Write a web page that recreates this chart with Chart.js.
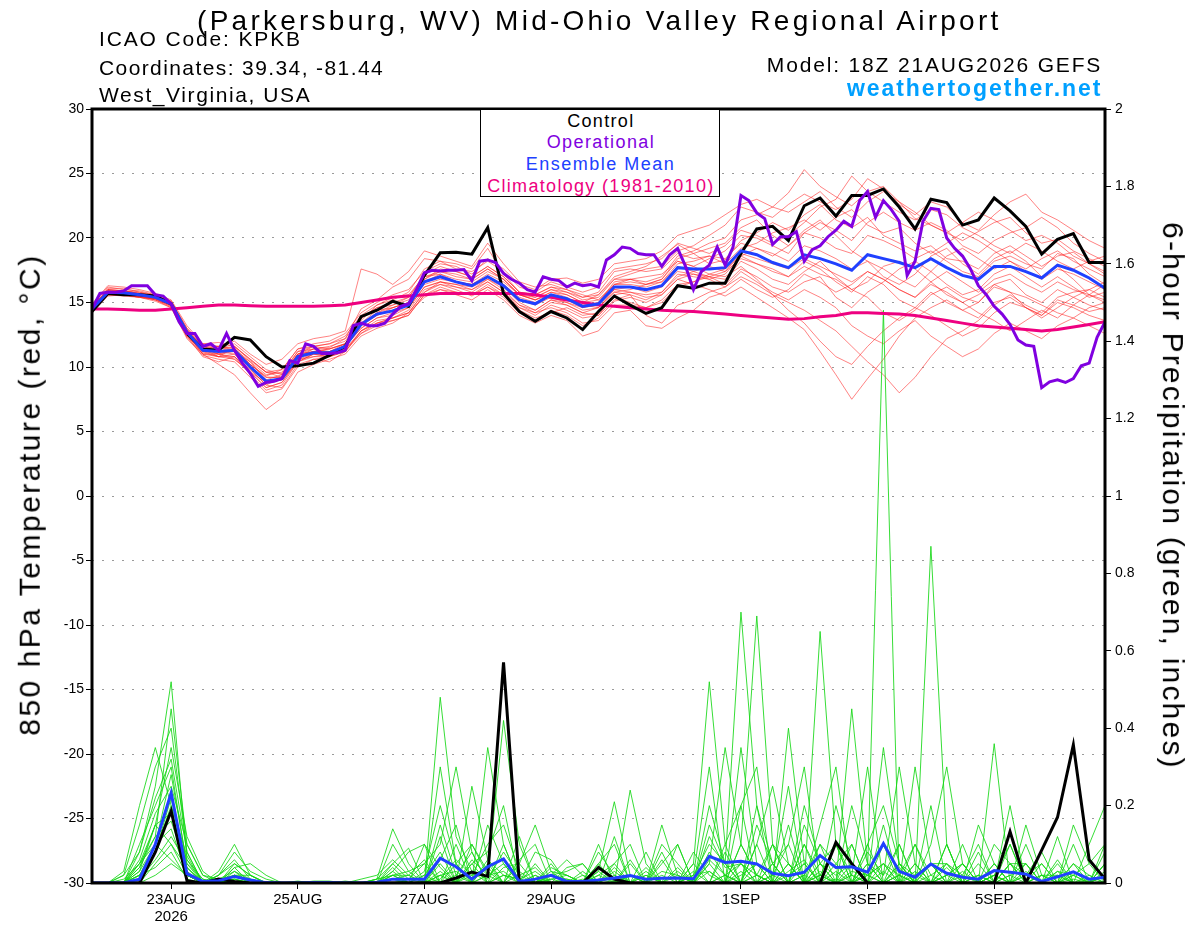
<!DOCTYPE html>
<html><head><meta charset="utf-8">
<script src="https://cdn.jsdelivr.net/npm/chart.js@4.4.1/dist/chart.umd.min.js"></script>
<style>
html,body{margin:0;padding:0;background:#fff;}
#wrap{position:relative;width:1200px;height:927px;overflow:hidden;font-family:"Liberation Sans",Arial,sans-serif;}
canvas{position:absolute;left:0;top:0;}
.t{position:absolute;white-space:nowrap;line-height:1;display:inline-block;color:#000;}
#legend{position:absolute;left:480px;top:110px;width:238px;height:86px;background:#fff;border:1px solid #000;border-top:none;}
</style></head>
<body><div id="wrap">
<canvas id="c" width="1200" height="927"></canvas>
<div id="legend"></div>
<div class="t" id="title" style="font-size:28px">(Parkersburg, WV) Mid-Ohio Valley Regional Airport</div>
<div class="t" id="icao" style="font-size:21px">ICAO Code: KPKB</div>
<div class="t" id="coord" style="font-size:21px">Coordinates: 39.34, -81.44</div>
<div class="t" id="state" style="font-size:21px">West_Virginia, USA</div>
<div class="t" id="model" style="font-size:21px">Model: 18Z 21AUG2026 GEFS</div>
<div class="t" id="site" style="font-size:23px;font-weight:bold;color:#00a0ff">weathertogether.net</div>
<div class="t" id="lg1" style="font-size:18px;color:#000">Control</div>
<div class="t" id="lg2" style="font-size:18px;color:#8000e0">Operational</div>
<div class="t" id="lg3" style="font-size:18px;color:#2040ff">Ensemble Mean</div>
<div class="t" id="lg4" style="font-size:18px;color:#ee0080">Climatology (1981-2010)</div>
<div class="t" id="ytitle" style="font-size:30px">850 hPa Temperature (red, °C)</div>
<div class="t" id="y2title" style="font-size:30px">6-hour Precipitation (green, inches)</div>
</div>
<script>
// ---------------- DATA ----------------
const TICK_HOURS = [30, 78, 126, 174, 246, 294, 342];
const TICK_LABELS = [['23AUG', '2026'], '25AUG', '27AUG', '29AUG', '1SEP', '3SEP', '5SEP'];

const CTRL_T = [14.3,15.7,15.6,15.6,15.5,14.9,12.6,11.4,11.3,12.3, 12.1,10.8,10.0,10.1,10.3,10.9,11.6,13.9,14.4,15.1,
 14.7,17.1,18.85,18.9,18.75,20.8,15.7,14.3,13.55,14.3, 13.8,12.9,14.3,15.5,14.8,14.15,14.6,16.3,16.1,16.5,
 16.5,18.8,20.7,20.9,19.8,22.5,23.1,21.7,23.3,23.3, 23.8,22.4,20.7,23.0,22.75,21.0,21.4,23.1,22.1,20.9,
 18.75,19.9,20.35,18.1,18.1];

const MEAN_T = [14.5,15.8,15.75,15.6,15.4,14.9,12.7,11.3,11.2,11.3, 10.0,8.9,9.1,10.8,11.1,11.1,11.6,13.3,14.1,14.35,
 14.8,16.6,17.0,16.6,16.3,17.0,16.3,15.2,14.9,15.6, 15.3,14.7,14.9,16.2,16.2,16.0,16.3,17.7,17.6,17.6,
 17.7,19.0,18.7,18.1,17.7,18.7,18.4,18.0,17.5,18.7, 18.4,18.1,17.7,18.4,17.7,17.1,16.8,17.8,17.8,17.4,
 16.9,17.9,17.5,16.9,16.1];

const CLIM_T = [14.5,14.5,14.45,14.4,14.4,14.5,14.6,14.7,14.8,14.8, 14.75,14.7,14.7,14.7,14.7,14.75,14.8,15.0,15.2,15.4,
 15.5,15.6,15.7,15.7,15.7,15.7,15.7,15.7,15.6,15.4, 15.2,15.0,14.8,14.7,14.6,14.5,14.4,14.35,14.3,14.2,
 14.1,14.0,13.9,13.8,13.7,13.75,13.9,14.0,14.2,14.2, 14.15,14.1,14.0,13.8,13.6,13.4,13.2,13.1,13.0,12.9,
 12.8,12.9,13.1,13.3,13.5];

// operational run, 3-hourly
const OPER_T = [14.5,15.7,15.8,15.8,15.9,16.3,16.3,16.3,15.6,15.5,
 14.9,13.5,12.6,12.6,11.6,11.8,11.3,12.6,11.3,10.3,
 9.5,8.5,8.8,8.9,9.1,10.5,10.3,11.8,11.6,11.05,
 11.05,11.1,11.3,13.2,13.4,13.2,13.2,13.4,14.1,14.7,
 14.9,16.0,17.3,17.5,17.45,17.5,17.5,17.55,16.7,18.2,
 18.3,18.1,17.25,16.8,16.5,16.0,15.8,17.0,16.8,16.7,
 16.2,16.5,16.3,16.4,16.2,18.3,18.7,19.3,19.2,18.8,
 18.7,18.7,17.8,18.7,19.2,17.8,16.0,17.4,17.9,19.3,
 17.9,19.3,23.3,22.9,21.95,21.5,19.5,20.1,20.1,20.5,
 18.2,19.1,19.4,20.1,20.6,21.3,20.9,22.9,23.6,21.6,
 22.9,22.2,21.3,17.1,18.2,21.3,22.3,22.2,20.0,19.2,
 18.6,17.6,16.3,15.6,14.7,14.1,13.3,12.1,11.7,11.6,
 8.4,8.85,9.0,8.8,9.1,10.1,10.3,12.3,13.5];

const CTRL_P = [0,0,0,0,0.08,0.186,0.006,0,0.01,0.004, 0,0,0,0,0,0,0,0,0,0,
 0,0,0,0.013,0.028,0.017,0.57,0,0,0, 0,0,0.04,0.01,0,0,0,0,0,0,
 0,0,0,0,0,0,0,0.105,0.05,0, 0,0,0,0,0,0,0,0,0.133,0,
 0.085,0.17,0.357,0.06,0.01];

const MEAN_P = [0,0,0,0.01,0.1,0.233,0.024,0.004,0.006,0.017, 0.008,0.001,0,0,0.001,0.001,0,0,0.002,0.01,
 0.01,0.01,0.064,0.042,0.01,0.042,0.062,0.004,0.01,0.02, 0.004,0.004,0.008,0.013,0.019,0.01,0.012,0.013,0.011,0.069,
 0.053,0.056,0.049,0.025,0.019,0.028,0.071,0.04,0.042,0.028, 0.102,0.03,0.015,0.049,0.025,0.015,0.01,0.032,0.028,0.023,
 0.004,0.016,0.029,0.01,0.015];

// ensemble members, 850 hPa temperature (6-hourly)
const M01 = [14.8,16.2,16.0,15.9,15.6,15.0,12.5,11.0,10.8,11.5,10.2,9.3,9.8,11.4,11.8,12.0,12.6,14.2,15.0,15.6,16.0,
 17.4,18.0,17.8,17.2,18.4,17.6,16.4,16.0,16.8,16.9,16.5,16.8,18.0,18.2,18.4,19.0,20.2,20.6,21.0,21.8,22.6,23.0,
 22.4,23.5,25.3,24.0,23.2,22.5,23.6,24.0,22.8,21.5,21.0,20.4,19.8,20.5,21.2,21.6,20.4,19.6,19.9,19.0,18.4,17.8];
const M02 = [14.2,15.5,15.6,15.4,15.1,14.6,12.2,10.9,10.6,10.4,9.2,8.0,8.3,10.0,10.6,10.8,11.2,12.8,13.4,13.8,14.2,
 15.8,16.4,16.0,15.5,16.2,15.4,14.2,13.6,14.4,14.0,13.2,13.8,15.1,15.4,15.0,15.6,16.8,16.4,16.0,15.5,16.2,15.4,
 14.6,13.8,12.9,11.2,9.4,7.5,9.1,10.6,12.4,13.8,14.6,15.2,14.4,15.0,16.2,15.8,14.6,14.0,15.2,14.8,14.3,14.6];
const M03 = [14.6,16.0,15.9,15.7,15.5,15.1,13.0,11.8,11.9,11.6,10.5,9.6,9.5,11.0,11.4,11.5,12.2,14.5,15.2,16.2,16.8,
 18.4,18.2,18.0,17.6,19.2,17.2,15.8,15.4,16.0,15.6,15.0,15.6,17.0,17.4,17.8,18.6,19.5,18.8,18.0,18.3,19.8,20.4,
 21.2,20.6,21.8,22.6,21.4,20.8,21.6,20.2,19.6,19.0,19.4,18.4,18.2,17.6,18.8,19.4,18.6,17.8,18.6,18.9,18.0,17.4];
const M04 = [14.4,15.6,15.8,15.5,15.2,14.7,12.8,11.5,11.0,10.8,9.4,8.2,8.6,10.4,11.0,10.8,11.4,12.6,13.2,13.6,14.0,
 15.6,16.2,15.8,15.6,16.4,15.6,14.4,13.8,14.2,14.6,14.0,14.2,15.4,15.0,14.6,15.2,16.4,16.6,17.0,16.8,18.2,17.6,
 16.8,16.4,17.4,18.2,17.0,16.0,15.4,14.2,13.6,14.4,15.6,16.2,15.4,15.0,16.4,16.8,15.6,15.0,16.0,15.4,14.8,14.4];
const M05 = [14.7,15.9,15.7,15.6,15.4,14.8,12.4,11.2,11.4,11.8,10.8,9.8,9.4,11.2,11.6,11.4,11.8,13.6,14.8,15.4,15.6,
 17.0,17.2,16.8,16.6,17.4,16.8,15.6,15.2,15.8,15.4,14.8,14.6,15.8,16.0,16.4,16.8,18.4,18.8,19.2,19.6,20.8,21.4,
 20.2,19.4,20.6,21.4,20.2,19.0,18.2,17.0,16.4,17.2,18.6,19.2,18.0,17.2,18.4,19.0,18.2,17.0,17.8,16.8,15.6,15.0];
const M06 = [14.3,15.7,15.7,15.5,15.3,14.9,12.6,11.0,10.2,9.4,8.0,6.7,7.6,9.6,10.2,10.6,11.0,12.4,13.0,13.4,14.2,
 15.8,16.6,16.4,16.0,16.8,16.2,15.0,14.4,15.2,14.8,14.2,14.0,15.6,15.8,15.4,15.6,16.8,17.2,17.0,16.4,17.6,17.0,
 16.2,15.8,16.6,17.0,15.4,14.6,15.8,16.6,17.6,18.2,17.4,16.4,15.6,16.0,17.2,17.8,17.0,16.2,17.0,16.2,15.4,15.8];
const M07 = [14.9,16.3,16.2,16.0,15.7,15.2,13.2,11.8,11.6,12.0,11.0,10.2,10.6,11.8,12.2,12.4,12.8,17.6,17.2,16.4,17.4,
 19.0,18.6,18.2,17.8,19.6,18.0,16.6,16.2,16.4,16.0,15.6,15.2,16.4,16.8,17.0,17.2,18.2,17.8,18.4,19.0,20.2,20.0,
 19.4,18.8,20.4,20.0,19.2,18.8,20.2,19.8,19.2,18.4,19.0,18.2,17.4,17.0,18.2,18.6,18.0,17.6,18.8,18.4,17.2,16.4];
const M08 = [14.5,15.8,15.6,15.4,15.3,14.8,12.9,11.4,10.8,10.6,9.6,8.4,8.8,10.6,10.8,11.0,11.6,13.0,13.8,14.2,14.6,
 16.2,16.6,16.2,15.8,16.6,15.8,14.8,14.2,15.0,14.8,14.2,14.6,15.8,15.6,15.2,15.8,17.2,17.0,16.8,17.2,18.6,18.0,
 17.4,17.0,18.2,17.6,16.6,15.8,17.0,16.4,15.2,14.6,15.8,15.0,14.4,13.8,15.0,15.4,14.6,14.0,15.0,14.6,14.0,13.6];
const M09 = [14.6,16.1,16.1,15.8,15.5,15.0,12.8,11.6,11.6,11.2,10.4,9.4,9.6,11.2,11.4,11.6,12.0,13.8,14.6,14.8,15.2,
 16.8,17.6,17.4,17.0,17.8,17.0,15.8,15.6,16.2,15.8,15.2,15.4,16.8,17.2,17.6,17.8,19.0,19.4,20.2,21.0,22.4,22.0,
 21.6,22.6,23.4,22.8,22.2,23.0,24.6,23.8,22.6,21.8,22.8,22.4,21.2,20.6,21.8,22.8,23.4,22.0,21.4,20.6,19.8,19.2];
const M10 = [14.4,15.6,15.6,15.5,15.3,14.7,12.4,10.8,10.4,10.8,9.8,8.6,8.4,10.2,10.6,10.4,11.2,12.8,13.6,13.8,14.4,
 16.0,16.4,16.2,16.0,16.6,15.8,14.6,14.0,14.8,14.4,13.8,14.0,15.2,15.6,14.0,13.4,14.8,15.2,15.8,16.2,17.4,16.6,
 15.8,15.2,16.0,15.4,14.6,13.2,12.4,11.8,12.8,13.6,12.4,11.6,10.8,11.4,12.6,13.4,12.8,12.2,13.2,13.8,13.2,12.6];
const M11 = [14.5,15.9,15.8,15.6,15.4,14.9,12.7,11.2,11.0,11.4,10.2,9.2,9.2,10.8,11.2,11.2,11.8,13.4,14.2,14.6,15.0,
 16.4,16.8,16.6,16.4,17.0,16.4,15.2,14.8,15.4,15.0,14.6,14.8,16.0,16.2,15.8,16.2,17.4,17.2,16.8,16.2,17.0,16.4,
 15.6,15.0,14.4,13.6,12.8,11.6,10.4,9.4,8.0,9.2,10.8,12.2,12.8,13.6,14.8,15.6,14.8,14.2,15.4,15.8,16.0,15.4];
const M12 = [14.6,15.8,15.7,15.5,15.3,14.9,12.6,11.4,11.6,11.4,10.4,9.0,9.4,11.0,11.2,11.4,11.8,13.2,14.0,14.6,15.0,
 16.6,17.2,16.6,16.4,17.2,16.6,15.6,15.4,16.0,15.8,15.4,15.6,16.8,16.8,16.4,16.6,18.0,18.2,18.6,18.0,19.2,19.6,
 20.4,20.8,21.4,20.6,21.6,22.2,21.0,20.4,20.8,19.6,18.8,19.6,20.4,19.8,19.0,18.2,17.6,18.4,19.0,18.2,17.6,17.0];
const M13 = [14.3,15.6,15.5,15.4,15.2,14.6,12.3,11.0,11.0,10.6,9.6,8.8,9.0,10.4,11.0,11.0,11.4,12.8,13.4,13.8,14.2,
 15.4,16.0,15.6,15.2,16.0,15.2,14.0,13.4,14.0,13.6,12.4,12.8,14.2,14.4,13.2,13.0,13.8,14.4,15.4,15.8,16.8,16.0,
 15.4,16.0,17.2,16.6,15.8,16.4,17.4,16.8,16.0,15.4,16.6,17.4,16.6,15.8,16.8,17.2,16.4,15.8,16.6,16.0,15.6,15.2];
const M14 = [14.7,16.0,15.9,15.8,15.6,15.1,13.0,11.6,11.2,11.0,9.8,8.6,9.2,11.0,11.6,11.8,12.4,14.0,14.8,15.2,15.8,
 17.6,18.2,17.6,17.4,18.2,17.4,16.2,15.8,16.6,16.2,15.8,16.2,17.6,17.8,18.0,18.4,19.6,19.2,18.8,19.4,20.6,20.2,
 19.6,20.2,21.2,22.4,23.0,24.8,23.6,22.8,22.0,21.4,22.2,21.8,20.8,20.2,19.4,18.8,19.6,19.0,18.2,17.6,18.2,18.6];
const M15 = [14.4,15.7,15.6,15.5,15.2,14.8,12.6,11.2,10.8,11.0,10.0,8.8,9.0,10.6,11.0,11.0,11.6,13.0,13.8,14.0,14.6,
 16.2,16.6,16.4,16.2,16.8,16.0,14.8,14.4,15.2,15.0,14.4,14.6,16.0,15.8,15.6,15.8,17.0,17.4,17.8,17.4,18.4,18.0,
 17.6,17.0,17.8,17.2,16.8,16.0,16.6,17.8,18.2,17.6,16.6,15.6,15.0,15.6,16.4,15.8,15.4,14.8,14.2,13.8,14.6,15.0];
const M16 = [14.5,15.8,15.8,15.6,15.4,14.9,12.8,11.4,11.2,11.2,10.2,9.2,9.2,11.0,11.2,11.2,11.6,13.4,14.4,14.6,15.0,
 16.8,17.4,17.2,16.8,17.6,16.8,15.6,15.2,15.6,15.2,14.8,15.0,16.6,16.8,16.6,17.0,18.6,19.0,19.6,20.0,21.4,21.8,
 22.4,22.0,22.8,23.6,22.4,21.6,22.8,23.6,22.8,22.0,21.0,20.4,21.2,22.0,21.4,20.6,19.8,20.2,19.6,18.6,18.0,17.2];
const M17 = [14.6,15.9,15.8,15.7,15.5,15.0,12.9,11.6,11.4,11.6,10.6,9.6,9.8,11.4,11.6,11.8,12.2,13.8,14.6,15.0,15.4,
 17.0,17.4,17.0,16.8,17.6,16.8,15.6,15.2,15.8,15.6,15.0,15.2,16.4,16.6,16.4,16.8,18.2,17.8,17.2,17.0,17.8,16.8,
 15.6,14.4,13.4,12.0,10.8,10.2,11.6,12.8,13.8,14.6,14.0,13.2,12.4,13.0,14.2,15.0,14.6,13.8,14.6,15.4,16.0,16.6];
const M18 = [14.4,15.7,15.6,15.4,15.3,14.8,12.5,11.1,10.8,10.8,9.6,8.4,8.8,10.4,10.8,10.8,11.2,12.6,13.4,13.6,14.0,
 15.6,16.0,15.8,15.6,16.2,15.6,14.6,14.2,14.6,14.2,13.4,13.6,14.8,14.8,14.6,15.0,16.2,16.6,17.2,17.6,18.6,19.2,
 18.8,18.2,19.4,19.0,18.4,17.6,18.2,17.6,16.8,16.2,17.4,18.6,19.2,18.4,17.6,18.2,17.4,16.8,17.6,17.2,16.6,16.0];
const M19 = [14.5,15.9,15.9,15.7,15.5,15.0,12.8,11.4,11.0,11.2,10.0,8.8,9.2,10.8,11.2,11.4,11.8,13.4,14.0,14.4,14.8,
 16.6,17.0,16.6,16.4,17.0,16.4,15.4,15.0,15.6,15.2,14.6,15.0,16.4,16.4,16.2,16.6,17.8,17.4,17.0,17.4,18.8,18.4,
 18.0,17.6,18.4,17.8,17.2,16.6,17.4,16.8,16.0,15.4,16.4,15.8,15.0,14.2,13.6,12.8,13.6,14.4,13.8,14.8,15.6,16.4];
const M20 = [14.6,16.0,15.9,15.7,15.5,14.9,12.7,11.3,11.2,11.6,10.6,9.6,9.2,10.8,11.4,11.2,11.6,13.2,14.2,14.8,15.4,
 17.2,17.8,17.4,17.0,17.8,17.0,15.8,15.6,16.2,16.0,15.4,15.8,17.4,17.6,17.4,17.6,18.8,18.4,18.6,18.4,19.6,19.2,
 18.6,19.4,20.4,21.2,20.6,19.8,21.2,22.0,21.2,20.6,21.2,20.6,19.4,18.8,19.8,20.4,20.8,21.6,20.8,19.6,18.8,18.2];

// ensemble members, 6-hour precipitation (inches)
const P01 = [0,0,0,0.08,0.25,0.52,0.06,0,0.01,0.03, 0.01,0,0,0,0,0,0,0,0,0.02, 0,0,0.48,0.12,0.03,0,0.02,0,0,0.01,
 0,0,0,0.04,0,0,0,0,0.02,0.1, 0.05,0.7,0.2,0,0.03,0.06,0,0,0.02,0, 0,0.04,0,0,0.02,0,0,0.05,0,0, 0,0.02,0,0,0.03];
const P02 = [0,0,0.02,0.15,0.3,0.4,0.08,0,0,0.05, 0.02,0,0,0,0,0,0,0,0,0, 0.01,0.05,0.1,0.3,0.08,0,0,0.06,0.1,0,
 0,0,0.03,0.21,0.02,0,0.05,0.1,0,0, 0.02,0,0.1,0.25,0.05,0,0.65,0.1,0,0.02, 0.05,0,0.1,0.02,0,0,0.08,0,0.02,0, 0,0,0.05,0.02,0];
const P03 = [0,0,0,0.05,0.12,0.45,0.1,0.02,0,0.02, 0,0,0,0.005,0,0,0,0,0.01,0.14, 0.05,0,0.02,0,0.25,0.06,0,0,0,0.04,
 0.02,0,0.1,0,0,0.03,0,0,0.05,0.52, 0.1,0,0,0.05,0,0.1,0.02,0,0,0.03, 1.48,0,0,0,0.04,0,0,0.02,0.1,0, 0,0.06,0,0,0];
const P04 = [0,0,0,0.1,0.2,0.3,0.04,0,0.02,0.08, 0.03,0.01,0,0,0,0,0,0,0,0.03, 0.08,0.1,0,0.05,0,0.35,0.1,0,0.02,0,
 0,0,0,0,0.24,0.05,0,0,0,0.05, 0.35,0.1,0.02,0,0.4,0.05,0,0,0.45,0.05, 0,0.05,0,0.87,0.1,0,0,0,0.05,0.02, 0,0,0.1,0,0];
const P05 = [0,0,0.03,0.2,0.35,0.2,0.02,0,0.01,0, 0,0,0,0,0,0,0,0.01,0.02,0.06, 0.02,0,0,0,0,0.02,0.42,0.1,0,0,
 0.04,0.05,0,0,0,0,0.15,0.02,0,0, 0,0.1,0.69,0.1,0,0,0.05,0,0,0.08, 0.02,0.3,0.05,0,0,0,0,0.36,0,0, 0.05,0,0,0.1,0.2];
const P06 = [0,0,0,0.04,0.15,0.35,0.12,0.03,0,0.04, 0.05,0.02,0,0,0,0,0,0,0,0, 0,0.03,0.2,0.05,0.1,0.02,0.05,0,0.08,0.06,
 0,0,0.05,0.1,0,0,0,0,0.08,0.02, 0,0.2,0,0.05,0.1,0.3,0,0.05,0.1,0, 0.05,0,0.3,0.05,0,0.02,0,0,0,0.15, 0.02,0,0,0,0.05];
const P07 = [0,0,0,0.03,0.1,0.28,0.05,0,0.03,0.1, 0.02,0,0,0,0,0,0,0,0,0.05, 0.01,0,0.06,0.15,0,0.05,0,0.12,0,0.02,
 0.06,0.02,0,0.05,0.1,0,0,0.1,0,0.2, 0.05,0,0.1,0,0.05,0,0.15,0.3,0,0.1, 0.2,0.05,0,0.1,0.3,0.05,0,0,0.2,0, 0,0.12,0,0,0.1];
const P08 = [0,0,0.02,0.08,0.22,0.32,0.08,0,0,0.03, 0,0,0,0,0.005,0.005,0,0,0,0.02, 0,0,0.12,0,0.05,0.08,0.2,0,0.02,0,
 0,0,0.08,0.02,0,0.08,0,0,0.02,0.3, 0,0.35,0.05,0,0,0.2,0.05,0,0.02,0.3, 0,0,0.05,0,0.1,0,0.15,0.05,0,0.02, 0.08,0,0.05,0,0];
const P09 = [0,0,0,0.06,0.18,0.25,0.1,0.02,0.01,0.02, 0,0,0,0,0,0,0.005,0,0,0.1, 0.03,0.05,0,0,0.1,0.03,0,0.05,0.15,0.03,
 0.02,0,0,0,0.05,0,0.02,0,0,0.15, 0.05,0,0.05,0.02,0.25,0,0.1,0,0.1,0, 0.15,0,0,0.2,0,0.1,0,0,0.05,0, 0.02,0,0.15,0.05,0];
const P10 = [0,0,0,0.02,0.08,0.22,0.03,0,0.02,0.05, 0.02,0,0,0,0,0,0,0,0.01,0.05, 0.09,0,0.3,0.05,0,0,0.1,0,0,0.05,
 0,0.03,0,0,0,0,0.1,0.05,0,0, 0.1,0.2,0.3,0,0,0.15,0.05,0.1,0,0.05, 0,0.1,0,0.05,0.05,0,0,0.1,0.05,0.05, 0,0.05,0,0,0.05];
const P11 = [0,0,0.01,0.05,0.15,0.18,0.06,0.01,0,0.04, 0,0,0,0,0,0,0,0,0,0, 0,0.1,0.04,0,0.02,0.1,0.15,0.03,0,0.02,
 0.03,0.05,0,0,0,0.02,0,0,0.05,0, 0.02,0,0.15,0.05,0,0.1,0,0.2,0.05,0, 0.35,0.05,0,0,0.1,0,0.02,0,0,0.1, 0,0,0.02,0.05,0.1];
const P12 = [0,0,0,0.04,0.12,0.16,0.04,0,0,0.02, 0.01,0,0,0,0,0,0,0,0,0.03, 0,0.02,0.08,0,0.06,0.02,0.03,0,0.05,0,
 0,0.02,0,0.12,0,0,0.06,0,0,0.06, 0.02,0.05,0,0.1,0.05,0,0.02,0,0.2,0.05, 0,0.02,0.1,0,0,0.05,0,0.02,0,0, 0.02,0.02,0,0,0.08];
const P13 = [0,0,0,0.02,0.1,0.14,0.02,0,0.01,0.01, 0,0,0,0,0,0,0,0,0,0.01, 0,0.02,0,0.1,0,0.15,0.05,0,0,0.02,
 0.01,0,0.05,0,0.02,0,0,0.03,0,0.08, 0.02,0,0.2,0.05,0,0.02,0.1,0.05,0,0.05, 0.02,0.1,0,0.02,0.05,0,0.05,0,0.02,0.05, 0,0.03,0,0,0];
const P14 = [0,0,0,0.01,0.06,0.12,0.05,0.01,0,0.02, 0.02,0,0,0,0,0,0,0,0.01,0.02, 0.02,0,0.05,0,0.03,0.01,0.08,0.02,0,0,
 0,0,0.02,0.05,0,0,0.03,0.02,0,0.12, 0.04,0.05,0,0.02,0.1,0,0.05,0.02,0.05,0, 0.1,0,0.05,0,0.02,0.05,0,0.05,0,0.03, 0,0,0.03,0,0.02];
const P15 = [0,0,0,0,0.05,0.1,0.04,0,0.01,0, 0,0,0,0,0,0,0,0,0,0, 0,0,0.02,0.03,0,0.06,0.02,0.01,0.03,0,
 0.01,0,0.02,0,0,0.02,0,0,0.02,0.03, 0,0.1,0.02,0,0.02,0.05,0,0,0.03,0.02, 0.05,0.02,0,0.05,0,0,0.02,0,0.05,0, 0,0,0,0.02,0];
const P16 = [0,0,0,0.02,0.08,0.2,0.07,0,0,0.01, 0,0,0,0,0,0,0,0,0,0.04, 0,0,0.15,0.02,0,0,0.04,0.05,0,0.03,
 0,0.01,0,0.03,0,0.04,0,0,0,0.05, 0,0.02,0.05,0,0.15,0,0.02,0.1,0.02,0, 0.03,0,0.02,0,0.05,0.02,0.1,0,0,0.02, 0.05,0,0,0,0.02];
const P17 = [0,0,0,0.03,0.15,0.1,0.02,0,0.02,0.06, 0.01,0,0,0,0,0,0,0,0,0.01, 0.02,0.06,0,0.02,0.08,0,0,0.02,0.04,0,
 0,0,0.03,0,0.06,0,0,0.04,0,0, 0.08,0,0.02,0.1,0,0.05,0,0.03,0,0.1, 0,0.05,0.02,0.05,0,0.03,0,0,0.1,0, 0,0.03,0.02,0,0.05];
const P18 = [0,0,0,0.05,0.1,0.06,0.02,0,0,0.02, 0,0,0,0,0,0,0,0,0,0.02, 0.03,0,0.01,0.06,0.02,0.04,0,0,0,0.01,
 0.02,0,0.01,0,0.02,0,0.08,0,0.03,0, 0,0.05,0.02,0,0.05,0,0.03,0,0.05,0.02, 0,0.02,0,0,0.02,0.05,0,0.02,0,0.05, 0,0,0.02,0,0.02];
const P19 = [0,0,0,0.02,0.04,0.08,0.01,0,0,0, 0,0,0,0,0,0,0,0,0,0, 0,0,0.03,0,0.05,0,0.02,0.01,0,0,
 0,0,0,0.02,0,0,0,0.02,0,0.03, 0,0.03,0,0.02,0,0.02,0,0.01,0,0.02, 0,0,0.03,0,0,0,0.02,0,0,0, 0.02,0,0,0.01,0];
const P20 = [0,0,0,0,0.02,0.05,0.02,0,0,0.01, 0,0,0,0,0,0,0,0,0,0.01, 0,0,0.02,0,0,0.02,0,0,0.01,0,
 0,0,0,0,0.02,0,0,0,0,0, 0,0,0.02,0,0,0,0.02,0,0,0, 0,0.02,0,0,0,0,0,0.02,0,0, 0,0,0.01,0,0];

const MEMBERS_T = [M01,M02,M03,M04,M05,M06,M07,M08,M09,M10,M11,M12,M13,M14,M15,M16,M17,M18,M19,M20];
const MEMBERS_P = [P01,P02,P03,P04,P05,P06,P07,P08,P09,P10,P11,P12,P13,P14,P15,P16,P17,P18,P19,P20];

// ---------------- CHART ----------------
const FONT = 'Liberation Sans';
const pts = (arr, step) => arr.map((v, i) => ({x: i * step, y: v}));
const datasets = [];
MEMBERS_T.forEach((m, k) => datasets.push({label: 'T' + (k + 1), data: pts(m, 6), yAxisID: 'y',
  borderColor: 'rgba(255,30,30,0.55)', borderWidth: 1, order: 6}));
MEMBERS_P.forEach((m, k) => datasets.push({label: 'P' + (k + 1), data: pts(m, 6), yAxisID: 'y2',
  borderColor: 'rgba(20,215,20,0.85)', borderWidth: 1, order: 5}));
datasets.push({label: 'Climatology', data: pts(CLIM_T, 6), yAxisID: 'y', borderColor: '#ee0080', borderWidth: 3, order: 4});
datasets.push({label: 'Control P', data: pts(CTRL_P, 6), yAxisID: 'y2', borderColor: '#000', borderWidth: 3, order: 3});
datasets.push({label: 'Control', data: pts(CTRL_T, 6), yAxisID: 'y', borderColor: '#000', borderWidth: 3, order: 3});
datasets.push({label: 'Mean P', data: pts(MEAN_P, 6), yAxisID: 'y2', borderColor: '#2040ff', borderWidth: 3, order: 2});
datasets.push({label: 'Mean', data: pts(MEAN_T, 6), yAxisID: 'y', borderColor: '#2040ff', borderWidth: 3, order: 2});
datasets.push({label: 'Operational', data: pts(OPER_T, 3), yAxisID: 'y', borderColor: '#8000e0', borderWidth: 3, order: 1});

const framePlugin = {
  id: 'frame',
  afterDatasetsDraw(chart) {
    const {ctx, chartArea: a} = chart;
    ctx.save();
    ctx.strokeStyle = '#000';
    ctx.lineWidth = 3;
    ctx.strokeRect(a.left, a.top, a.right - a.left, a.bottom - a.top);
    ctx.restore();
  }
};

new Chart(document.getElementById('c'), {
  type: 'line',
  data: {datasets},
  plugins: [framePlugin],
  options: {
    responsive: false,
    animation: false,
    layout: {padding: {top: 109, left: 0, right: 0, bottom: 0}},
    elements: {point: {radius: 0, hoverRadius: 0}, line: {tension: 0, fill: false}},
    plugins: {legend: {display: false}, tooltip: {enabled: false}, title: {display: false}},
    scales: {
      x: {
        type: 'linear', min: 0, max: 384, position: 'bottom',
        afterBuildTicks: s => { s.ticks = TICK_HOURS.map(v => ({value: v})); },
        afterFit: s => { s.height = 44; },
        ticks: {autoSkip: false, maxRotation: 0, padding: 3, color: '#000',
          font: {family: FONT, size: 15, lineHeight: 1.1},
          callback: v => TICK_LABELS[TICK_HOURS.indexOf(v)]},
        grid: {drawOnChartArea: false, drawTicks: true, tickLength: 6, tickColor: '#000', tickWidth: 1},
        border: {display: false}
      },
      y: {
        position: 'left', min: -30, max: 30,
        afterFit: s => { s.width = 92; },
        ticks: {stepSize: 5, padding: 2, color: '#000', font: {family: FONT, size: 14}},
        grid: {color: '#9a9a9a', lineWidth: 1, tickColor: '#000', tickLength: 6, tickWidth: 1, tickBorderDash: []},
        border: {display: false, dash: [2, 8]}
      },
      y2: {
        position: 'right', min: 0, max: 2,
        afterFit: s => { s.width = 95; },
        ticks: {stepSize: 0.2, padding: 4, color: '#000', font: {family: FONT, size: 14},
          callback: v => String(Math.round(v * 10) / 10)},
        grid: {drawOnChartArea: false, tickColor: '#000', tickLength: 6, tickWidth: 1},
        border: {display: false}
      }
    }
  }
});

// ---------------- TEXT LAYOUT ----------------
function fitText(el, w) {
  el.style.letterSpacing = '0px';
  const w0 = el.offsetWidth;
  const n = el.textContent.length;
  const ls = (w - w0) / Math.max(1, n - 1);
  el.style.letterSpacing = ls + 'px';
  return ls;
}
function place(id, o) {
  const el = document.getElementById(id);
  const ls = fitText(el, o.w);
  const W = el.offsetWidth - ls, H = el.offsetHeight;
  let left;
  if (o.left !== undefined) left = o.left;
  else if (o.right !== undefined) left = o.right - W;
  else left = o.cx - W / 2;
  el.style.left = left + 'px';
  el.style.top = (o.cy - H / 2) + 'px';
  if (o.rot) { el.style.transformOrigin = (W / 2) + 'px 50%'; el.style.transform = 'rotate(' + o.rot + 'deg)'; }
}
function layoutText() {
  place('title', {cx: 597.5, cy: 21, w: 801});
  place('icao', {left: 99, cy: 38, w: 201});
  place('coord', {left: 99, cy: 67, w: 284});
  place('state', {left: 99, cy: 94, w: 211});
  place('model', {right: 1100, cy: 64, w: 333});
  place('site', {right: 1101, cy: 88, w: 254});
  place('lg1', {cx: 600, cy: 121, w: 66});
  place('lg2', {cx: 600, cy: 142, w: 107});
  place('lg3', {cx: 600, cy: 164, w: 148});
  place('lg4', {cx: 600, cy: 186, w: 226});
  place('ytitle', {cx: 30, cy: 496, w: 480, rot: -90});
  place('y2title', {cx: 1173, cy: 495, w: 546, rot: 90});
}
layoutText();
if (document.fonts && document.fonts.ready) document.fonts.ready.then(layoutText);
</script>
</body></html>
